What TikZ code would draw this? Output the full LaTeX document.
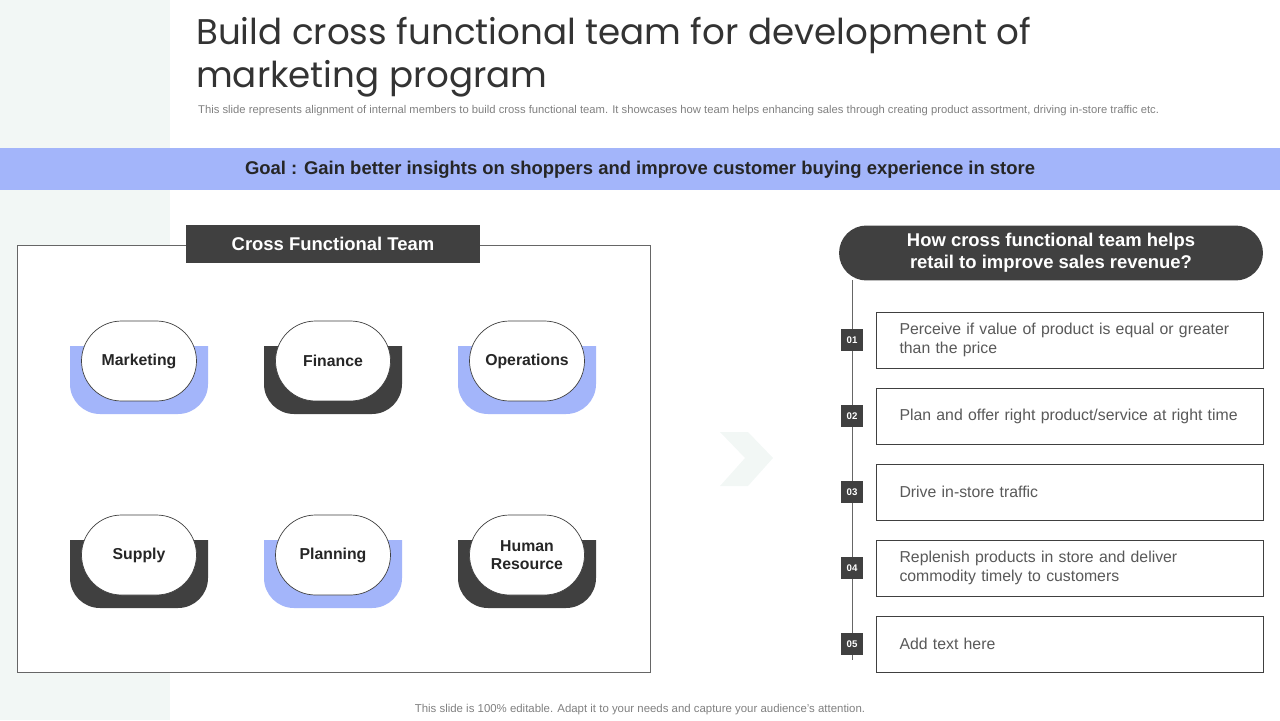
\documentclass[tikz,border=0pt]{standalone}
\usepackage{fontspec}
\setmainfont{Liberation Sans}
\newfontfamily\titlefont{Poppins}
\usetikzlibrary{positioning}
\definecolor{darkbox}{HTML}{404040}
\definecolor{goalblue}{HTML}{A3B5FA}
\definecolor{paleside}{HTML}{F2F7F5}
\definecolor{textgray}{HTML}{595959}
\tikzset{
  pill/.style={draw=darkbox, fill=white, rounded corners=0.8cm, minimum width=2.3cm,
    minimum height=1.6cm, align=center, font=\fontsize{9}{10}\selectfont\bfseries, text=black!85},
  numbox/.style={fill=darkbox, text=white, minimum size=0.44cm, inner sep=0pt,
    font=\fontsize{5.5}{6}\selectfont\bfseries},
  reasonbox/.style={draw=darkbox, fill=white, minimum width=7.74cm, minimum height=1.12cm,
    text width=6.8cm, align=left, font=\fontsize{9}{10.5}\selectfont, text=textgray}
}
\begin{document}
\begin{tikzpicture}[x=0.02cm, y=-0.02cm]
  \useasboundingbox (0,0) rectangle (1280,720);
  \fill[paleside] (0,0) rectangle (170,720);
  % title
  \node[anchor=west, font=\titlefont\fontsize{20.3}{22}\selectfont, text=black!80] (title1) at (190,36) {Build cross functional team for development of};
  \node[anchor=west, font=\titlefont\fontsize{20.3}{22}\selectfont, text=black!80] (title2) at (190,79) {marketing program};
  \node[anchor=west, font=\fontsize{6.4}{7}\selectfont, text=gray] (sub) at (192,111) {This slide represents alignment of internal members to build cross functional team. It showcases how team helps enhancing sales through creating product assortment, driving in-store traffic etc.};
  % goal band
  \fill[goalblue] (0,148) rectangle (1280,190);
  \node[font=\fontsize{10.5}{12}\selectfont\bfseries, text=black!85] (goal) at (640,170) {Goal : Gain better insights on shoppers and improve customer buying experience in store};
  % left panel
  \draw[darkbox!80, fill=white] (17,245) rectangle (650,672);
  \node[fill=darkbox, text=white, minimum width=5.88cm, minimum height=0.76cm,
    font=\fontsize{10.5}{12}\selectfont\bfseries] (teamhead) at (333,244) {Cross Functional Team};
  \foreach \cx/\cy/\col/\name/\lbl in {139/361/goalblue/mkt/Marketing, 333/361/darkbox/fin/Finance,
      527/361/goalblue/ops/Operations, 139/555/darkbox/sup/Supply,
      333/555/goalblue/pln/Planning, 527/555/darkbox/hr/{Human\\Resource}}{
    \fill[\col] (\cx-69,\cy-15) [rounded corners=0.6cm] -- (\cx-69,\cy+53) -- (\cx+69,\cy+53)
      [sharp corners] -- (\cx+69,\cy-15) -- cycle;
    \node[pill] (\name) at (\cx,\cy) {\lbl};
  }
  % chevron
  \fill[paleside] (720,432) -- (748,432) -- (773,458) -- (748,486) -- (720,486) -- (745,458) -- cycle;
  % right panel
  \node[fill=darkbox, text=white, rounded corners=0.55cm, minimum width=8.48cm, minimum height=1.1cm,
    align=center, font=\fontsize{10.5}{12.5}\selectfont\bfseries] (howhead) at (1051,253)
    {How cross functional team helps\\retail to improve sales revenue?};
  \coordinate (lineend) at (852,660);
  \draw[darkbox!80] (852,280) -- (lineend);
  \foreach \i/\yy/\txt in {01/340/{Perceive if value of product is equal or greater\\than the price},
      02/416/{Plan and offer right product/service at right time},
      03/492/{Drive in-store traffic},
      04/568/{Replenish products in store and deliver\\commodity timely to customers},
      05/644/{Add text here}}{
    \node[numbox] (n\i) at (852,\yy) {\i};
    \node[reasonbox] (r\i) at (1069.5,\yy) {\txt};
  }
  \node[font=\fontsize{6.5}{8}\selectfont, text=gray] (foot) at (640,710) {This slide is 100\% editable. Adapt it to your needs and capture your audience's attention.};
\end{tikzpicture}
\end{document}
